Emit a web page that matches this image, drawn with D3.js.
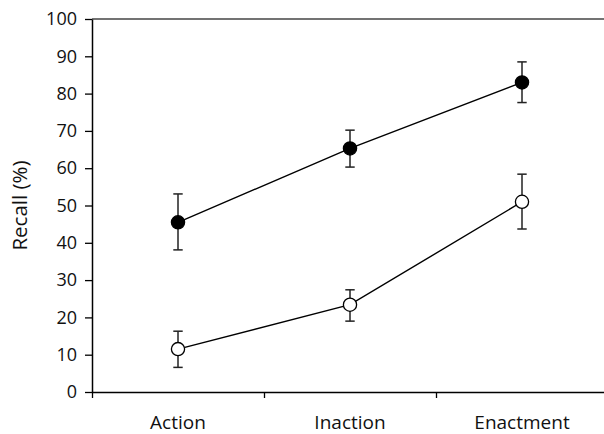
<!DOCTYPE html>
<html>
<head>
<meta charset="utf-8">
<script src="https://cdn.jsdelivr.net/npm/d3@7"></script>
<style>
  body { margin: 0; background: #fff; }
  svg { display: block; font-family: "Open Sans", sans-serif; }
</style>
</head>
<body>
<svg id="chart" width="604" height="434"></svg>
<script>
// data
var conditions = ['Action', 'Inaction', 'Enactment'];
var filledMean = [45.5, 65.3, 83.0];
var filledLow  = [38.1, 60.3, 77.6];
var filledHigh = [53.1, 70.2, 88.5];
var openMean = [11.5, 23.4, 51.0];
var openLow  = [6.6, 19.0, 43.7];
var openHigh = [16.3, 27.4, 58.4];
var yTicks = [0, 10, 20, 30, 40, 50, 60, 70, 80, 90, 100];

var svg = d3.select('#chart');
var mLeft = 92, mRight = 608, mTop = 19, mBottom = 392;

var x = d3.scaleBand().domain(conditions).range([mLeft, mRight]);
var xEdge = d3.scaleLinear().domain([0, conditions.length]).range([mLeft, mRight]);
var y = d3.scaleLinear().domain([0, 100]).range([mBottom, mTop]);

// top frame line
svg.append('line')
  .attr('x1', mLeft).attr('x2', mRight)
  .attr('y1', y(100)).attr('y2', y(100))
  .attr('stroke', '#444').attr('stroke-width', 1.5);

// y axis
var yAxis = svg.append('g')
  .attr('transform', 'translate(' + mLeft + ',0)')
  .call(d3.axisLeft(y).tickValues(yTicks).tickSize(7).tickSizeOuter(0).tickPadding(8));
yAxis.select('.domain').attr('stroke', '#000').attr('stroke-width', 1.5);
yAxis.selectAll('.tick line').attr('stroke', '#000').attr('stroke-width', 1.3);
yAxis.selectAll('text').attr('font-size', 18).attr('fill', '#111').attr('font-family', '"Open Sans", sans-serif');

// x axis: ticks on the band edges, labels at band centres
var xEdges = svg.append('g')
  .attr('transform', 'translate(0,' + mBottom + ')')
  .call(d3.axisBottom(xEdge).tickValues([0, 1, 2, 3]).tickFormat('').tickSize(6).tickSizeOuter(0));
xEdges.select('.domain').attr('stroke', '#000').attr('stroke-width', 1.5);
xEdges.selectAll('.tick line').attr('stroke', '#000').attr('stroke-width', 1.3);

var xLabels = svg.append('g')
  .attr('transform', 'translate(0,' + mBottom + ')')
  .call(d3.axisBottom(x).tickSize(0).tickPadding(24));
xLabels.select('.domain').remove();
xLabels.selectAll('text').attr('font-size', 19).attr('fill', '#111').attr('font-family', '"Open Sans", sans-serif');

// y title
svg.append('text')
  .attr('transform', 'translate(27,' + ((mTop + mBottom) / 2) + ') rotate(-90)')
  .attr('text-anchor', 'middle')
  .attr('font-size', 20.5)
  .attr('fill', '#111')
  .text('Recall (%)');

var cx = function(d, i) { return x(conditions[i]) + x.bandwidth() / 2; };

function drawSeries(mean, low, high, fill) {
  var pts = mean.map(function(m, i) { return { i: i, m: m, lo: low[i], hi: high[i] }; });
  var line = d3.line()
    .x(function(d) { return cx(d, d.i); })
    .y(function(d) { return y(d.m); });
  svg.append('path')
    .datum(pts)
    .attr('d', line)
    .attr('fill', 'none')
    .attr('stroke', '#000')
    .attr('stroke-width', 1.4);

  var bars = svg.append('g').selectAll('g').data(pts).enter().append('g')
    .attr('stroke', '#222').attr('stroke-width', 1.5);
  bars.append('line')
    .attr('x1', function(d) { return cx(d, d.i); })
    .attr('x2', function(d) { return cx(d, d.i); })
    .attr('y1', function(d) { return y(d.lo); })
    .attr('y2', function(d) { return y(d.hi); });
  bars.append('line')
    .attr('x1', function(d) { return cx(d, d.i) - 4.7; })
    .attr('x2', function(d) { return cx(d, d.i) + 4.7; })
    .attr('y1', function(d) { return y(d.lo); })
    .attr('y2', function(d) { return y(d.lo); });
  bars.append('line')
    .attr('x1', function(d) { return cx(d, d.i) - 4.7; })
    .attr('x2', function(d) { return cx(d, d.i) + 4.7; })
    .attr('y1', function(d) { return y(d.hi); })
    .attr('y2', function(d) { return y(d.hi); });

  svg.append('g').selectAll('circle').data(pts).enter().append('circle')
    .attr('cx', function(d) { return cx(d, d.i); })
    .attr('cy', function(d) { return y(d.m); })
    .attr('r', 6.6)
    .attr('fill', fill)
    .attr('stroke', '#000')
    .attr('stroke-width', 1.3);
}

drawSeries(openMean, openLow, openHigh, '#fff');
drawSeries(filledMean, filledLow, filledHigh, '#000');
</script>
</body>
</html>
